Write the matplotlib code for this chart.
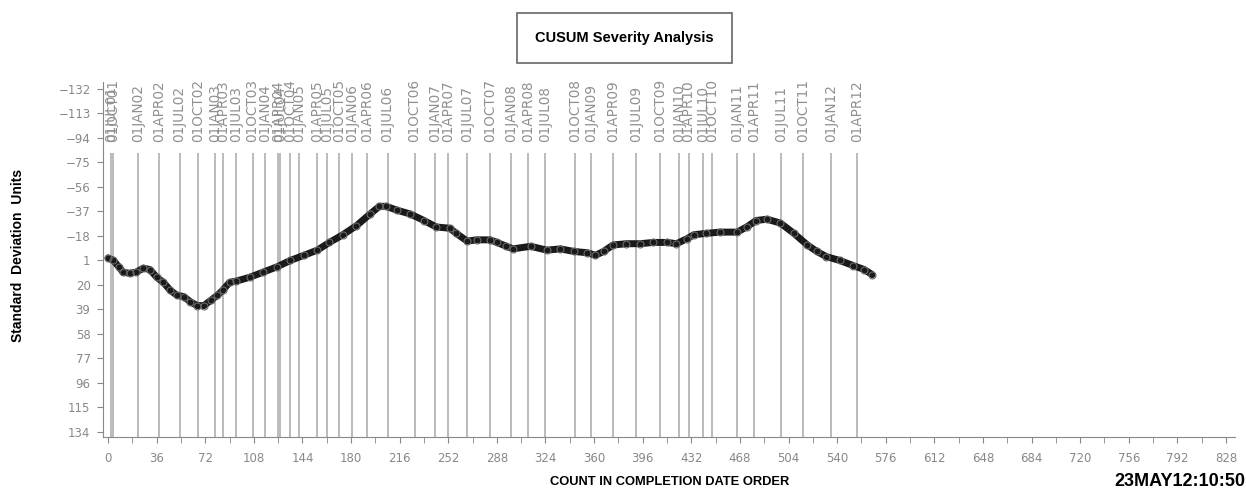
import matplotlib.pyplot as plt
from matplotlib.patches import Rectangle

# cumulative severity, read at the observation count
count = [0, 4, 8, 11, 16, 21, 26, 31, 36, 41, 46, 51, 56, 61, 66, 71, 76, 81, 85,
         90, 95, 105, 115, 125, 135, 145, 155, 164, 174, 184, 194, 201, 206, 214,
         224, 234, 243, 253, 258, 266, 273, 283, 288, 295, 300, 313, 325, 335, 345,
         355, 361, 367, 374, 384, 394, 404, 414, 421, 429, 434, 443, 453, 466, 473,
         480, 488, 498, 508, 518, 525, 532, 542, 552, 560, 566]
cusum = [-1, 1, 6, 10, 11, 10, 7, 8, 14, 18, 24, 28, 29, 33, 36, 36, 32, 28, 24,
         18, 17, 14, 10, 6, 1, -3, -7, -13, -19, -26, -35, -41, -41, -38,
         -35, -30, -25, -24, -20, -14, -15, -15, -13, -10, -8, -10, -7, -8, -6,
         -5, -3, -6, -11, -12, -12, -13, -13, -12, -16, -19, -20, -21, -21, -25,
         -30, -31, -28, -20, -11, -6, -2, 1, 5, 8, 12]

# first count of each quarter
qtr_labels = ["01JUL01", "01OCT01", "01JAN02", "01APR02", "01JUL02", "01OCT02",
              "01JAN03", "01APR03", "01JUL03", "01OCT03", "01JAN04", "01APR04",
              "01JUL04", "01OCT04", "01JAN05", "01APR05", "01JUL05", "01OCT05",
              "01JAN06", "01APR06", "01JUL06", "01OCT06", "01JAN07", "01APR07",
              "01JUL07", "01OCT07", "01JAN08", "01APR08", "01JUL08", "01OCT08",
              "01JAN09", "01APR09", "01JUL09", "01OCT09", "01JAN10", "01APR10",
              "01JUL10", "01OCT10", "01JAN11", "01APR11", "01JUL11", "01OCT11",
              "01JAN12", "01APR12"]
qtr_pos = [2, 4, 22, 38, 53, 67, 79, 85, 95, 107, 116, 126, 127.5, 135, 141.5,
           155, 162, 171, 181, 192, 207, 227, 242, 252, 266, 283, 298.5, 311,
           324, 346, 358, 374, 391, 409, 423, 430, 440.5, 447.5, 466, 478.5,
           498.5, 514.5, 535.5, 554.5]

x_ticks = list(range(0, 829, 36))
y_ticks = list(range(-132, 135, 19))

bold_font = ['Liberation Sans', 'DejaVu Sans']

fig = plt.figure(figsize=(12.46, 4.97), dpi=100)
ax = fig.add_axes([0.0827, 0.1207, 0.9088, 0.7143])

# quarter reference lines with their dates on top
ax.vlines(qtr_pos, -82.4, 137.9, color='#a8a8a8', lw=1.1, zorder=1)
for p, lab in zip(qtr_pos, qtr_labels):
    ax.text(p, -91, lab, rotation=90, ha='center', va='bottom',
            fontsize=9.8, color='#909090', clip_on=False)

ax.plot(count, cusum, color='#1a1a1a', lw=5, solid_capstyle='round',
        solid_joinstyle='round', zorder=3)
ax.plot(count, cusum, 'o', mfc='none', mec='#6a6a6a', ms=5, mew=0.8, zorder=4)

ax.set_xlim(-3.7, 835)
ax.set_ylim(137.9, -137.4)
ax.set_xticks(x_ticks)
ax.set_xticks(range(18, 829, 36), minor=True)
ax.set_yticks(y_ticks)

for s in ['top', 'right']:
    ax.spines[s].set_visible(False)
for s in ['left', 'bottom']:
    ax.spines[s].set_color('#888888')
ax.tick_params(which='both', direction='out', length=4, color='#888888',
               labelcolor='#888888', labelsize=8.5)
ax.tick_params(axis='x', pad=7)
ax.tick_params(axis='y', pad=5)

# title box
fig.patches.append(Rectangle((517 / 1246, 1 - 63 / 497), 215 / 1246, 50 / 497,
                             transform=fig.transFigure, fill=False,
                             ec='#666666', lw=1.2))
fig.text(624.5 / 1246, 1 - 38 / 497, "CUSUM Severity Analysis", ha='center',
         va='center', fontsize=10.5, fontweight='bold', family=bold_font)

fig.text(18 / 1246, 1 - 255 / 497, "Standard  Deviation  Units", rotation=90,
         ha='center', va='center', fontsize=10, fontweight='bold',
         family=bold_font)
fig.text(670 / 1246, 1 - 482 / 497, "COUNT IN COMPLETION DATE ORDER",
         ha='center', va='center', fontsize=9.3, fontweight='bold',
         family=bold_font)
fig.text(1245 / 1246, 1 - 482 / 497, "23MAY12:10:50", ha='right', va='center',
         fontsize=13, fontweight='bold', family=bold_font)

fig.savefig('out.png', dpi=100)
